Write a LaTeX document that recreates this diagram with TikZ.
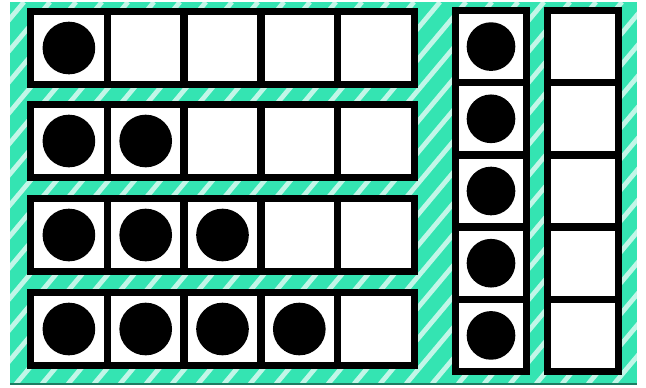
\documentclass[tikz,border=0pt]{standalone}
\definecolor{mint}{RGB}{52,228,178}
\tikzset{
  cell/.style={draw, line width=5.5pt, fill=white, inner sep=0pt,
    minimum width=57.6pt, minimum height=54.75pt},
  tallcell/.style={cell, minimum width=53.25pt, minimum height=54.15pt},
  counter/.style={circle, fill=black, inner sep=0pt, minimum size=39.5pt},
  smallcounter/.style={counter, minimum size=36.5pt}
}
\begin{document}
\begin{tikzpicture}[x=0.75pt,y=-0.75pt]
\useasboundingbox (0,0) rectangle (646,387);
% striped backdrop
\fill[mint] (10,2) rectangle (637,384);
\begin{scope}
\clip (10,2) rectangle (637,384);
\foreach \s in {-400,-374,...,650}
  \draw[white, opacity=0.7, line width=3.6pt] (\s,384) -- (\s+320,2);
\end{scope}
\draw[mint!55!black, line width=1.2pt] (10,384) -- (637,384);

% four horizontal frames, row r holds r counters
\foreach \r/\y in {1/48,2/141,3/235,4/329}
  \foreach \c in {1,...,5} {
    \node[cell] (h\r-\c) at ({30.5+76.8*(\c-0.5)},\y) {};
    \ifnum\c>\r\else \node[counter] (hd\r-\c) at (h\r-\c) {}; \fi
  }

% two vertical frames, full and empty
\foreach \k in {1,...,5} {
  \node[tallcell] (va\k) at (491,{46.6+72.2*(\k-1)}) {};
  \node[smallcounter] (vd\k) at (va\k) {};
  \node[tallcell] (vb\k) at (583,{46.6+72.2*(\k-1)}) {};
}
\end{tikzpicture}
\end{document}
